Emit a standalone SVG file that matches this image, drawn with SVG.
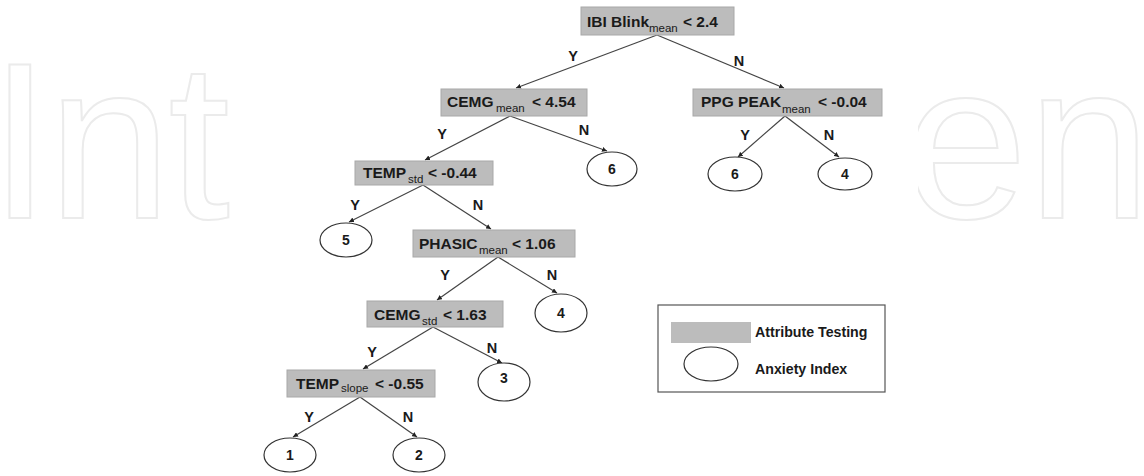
<svg xmlns="http://www.w3.org/2000/svg" width="1144" height="476" viewBox="0 0 1144 476">
<defs>
<marker id="ah" viewBox="0 0 6 6" refX="6" refY="3" markerWidth="5" markerHeight="5" orient="auto" markerUnits="userSpaceOnUse">
<path d="M0,0 L6,3 L0,6 z" fill="#222"/>
</marker>
</defs>
<style>
.wm{font-family:"Liberation Sans",Arial,sans-serif;font-size:222px;fill:none;stroke:#ebebeb;stroke-width:2}
.box{fill:#bcbcbc;stroke:#a8a8a8;stroke-width:1}
.t{font-family:"Liberation Sans",Arial,sans-serif;font-size:15.5px;font-weight:bold;fill:#1a1a1a}
.s{font-family:"Liberation Sans",Arial,sans-serif;font-size:11.5px;fill:#1a1a1a}
.lbl{font-family:"Liberation Sans",Arial,sans-serif;font-size:14.5px;font-weight:bold;fill:#1a1a1a;text-anchor:middle}
.num{font-family:"Liberation Sans",Arial,sans-serif;font-size:14px;font-weight:bold;fill:#1a1a1a;text-anchor:middle}
.ell{fill:#fff;stroke:#333;stroke-width:1.2}
.edge{stroke:#444;stroke-width:1.2;fill:none;marker-end:url(#ah)}
.lg{font-family:"Liberation Sans",Arial,sans-serif;font-size:14.2px;font-weight:bold;fill:#1a1a1a}
</style>
<rect width="1144" height="476" fill="#fff"/>
<g id="watermark">
<text class="wm" x="-11" y="218" letter-spacing="-3">Int</text>
<text class="wm" x="904" y="218">en</text>
<rect x="242" y="0" width="676" height="476" fill="#fff"/>
</g>
<g id="connectors">
<line class="edge" x1="657" y1="35" x2="516" y2="88"/>
<line class="edge" x1="657" y1="35" x2="784" y2="88"/>
<line class="edge" x1="510" y1="116" x2="425" y2="160"/>
<line class="edge" x1="510" y1="116" x2="607" y2="151"/>
<line class="edge" x1="785" y1="116" x2="738" y2="157"/>
<line class="edge" x1="785" y1="116" x2="839" y2="157"/>
<line class="edge" x1="423" y1="185" x2="349" y2="222"/>
<line class="edge" x1="423" y1="185" x2="491" y2="229"/>
<line class="edge" x1="498" y1="257" x2="437" y2="300"/>
<line class="edge" x1="498" y1="257" x2="557" y2="293"/>
<line class="edge" x1="433" y1="327" x2="363" y2="369"/>
<line class="edge" x1="433" y1="327" x2="502" y2="363"/>
<line class="edge" x1="360" y1="397" x2="293" y2="437"/>
<line class="edge" x1="360" y1="397" x2="417" y2="437"/>
<text class="lbl" x="573" y="61">Y</text>
<text class="lbl" x="739" y="66">N</text>
<text class="lbl" x="442" y="139">Y</text>
<text class="lbl" x="584" y="135">N</text>
<text class="lbl" x="745" y="140">Y</text>
<text class="lbl" x="829" y="140">N</text>
<text class="lbl" x="355" y="210">Y</text>
<text class="lbl" x="478" y="210">N</text>
<text class="lbl" x="445" y="280">Y</text>
<text class="lbl" x="552" y="280">N</text>
<text class="lbl" x="372" y="357">Y</text>
<text class="lbl" x="492" y="353">N</text>
<text class="lbl" x="309" y="422">Y</text>
<text class="lbl" x="408" y="422">N</text>
</g>
<g id="n-root">
<rect class="box" x="581" y="7" width="153" height="28"/>
<text class="t" x="587" y="27">IBI Blink</text>
<text class="s" x="649" y="31.5">mean</text>
<text class="t" x="683" y="27">&lt; 2.4</text>
</g>
<g id="n-cemg-mean">
<rect class="box" x="441" y="89" width="146" height="27"/>
<text class="t" x="447" y="107">CEMG</text>
<text class="s" x="496" y="112">mean</text>
<text class="t" x="532" y="107">&lt; 4.54</text>
</g>
<g id="n-ppg">
<rect class="box" x="693" y="89" width="189" height="27"/>
<text class="t" x="701" y="107">PPG PEAK</text>
<text class="s" x="782" y="112.5">mean</text>
<text class="t" x="818" y="107">&lt; -0.04</text>
</g>
<g id="n-temp-std">
<rect class="box" x="355" y="161" width="138" height="24"/>
<text class="t" x="363" y="178">TEMP</text>
<text class="s" x="408" y="182.5">std</text>
<text class="t" x="428" y="178">&lt; -0.44</text>
</g>
<g id="n-phasic">
<rect class="box" x="413" y="230" width="162" height="27"/>
<text class="t" x="419" y="249">PHASIC</text>
<text class="s" x="479" y="254">mean</text>
<text class="t" x="512" y="249">&lt; 1.06</text>
</g>
<g id="n-cemg-std">
<rect class="box" x="367" y="301" width="136" height="26"/>
<text class="t" x="374" y="320">CEMG</text>
<text class="s" x="422" y="325">std</text>
<text class="t" x="443" y="320">&lt; 1.63</text>
</g>
<g id="n-temp-slope">
<rect class="box" x="287" y="370" width="148" height="27"/>
<text class="t" x="296" y="389">TEMP</text>
<text class="s" x="341" y="392">slope</text>
<text class="t" x="375" y="389">&lt; -0.55</text>
</g>
<g id="leaf-6a"><ellipse class="ell" cx="612" cy="169" rx="25" ry="17"/><text class="num" x="612" y="174">6</text></g>
<g id="leaf-6b"><ellipse class="ell" cx="735" cy="174" rx="27" ry="17"/><text class="num" x="735" y="179">6</text></g>
<g id="leaf-4a"><ellipse class="ell" cx="845" cy="174" rx="27" ry="16"/><text class="num" x="845" y="179">4</text></g>
<g id="leaf-5"><ellipse class="ell" cx="346" cy="240" rx="26" ry="17"/><text class="num" x="346" y="245">5</text></g>
<g id="leaf-4b"><ellipse class="ell" cx="561" cy="313" rx="26" ry="19"/><text class="num" x="561" y="318">4</text></g>
<g id="leaf-3"><ellipse class="ell" cx="504" cy="382" rx="26" ry="19"/><text class="num" x="504" y="383">3</text></g>
<g id="leaf-1"><ellipse class="ell" cx="290" cy="455" rx="26" ry="17"/><text class="num" x="290" y="460">1</text></g>
<g id="leaf-2"><ellipse class="ell" cx="419" cy="455" rx="26" ry="17"/><text class="num" x="419" y="460">2</text></g>
<g id="legend">
<rect x="658" y="305" width="227" height="87" fill="#fff" stroke="#555" stroke-width="1.2"/>
<rect x="671" y="322" width="80" height="21" fill="#bcbcbc"/>
<text class="lg" x="755" y="337">Attribute Testing</text>
<ellipse class="ell" cx="711" cy="364" rx="27" ry="17"/>
<text class="lg" x="755" y="374">Anxiety Index</text>
</g>
</svg>
